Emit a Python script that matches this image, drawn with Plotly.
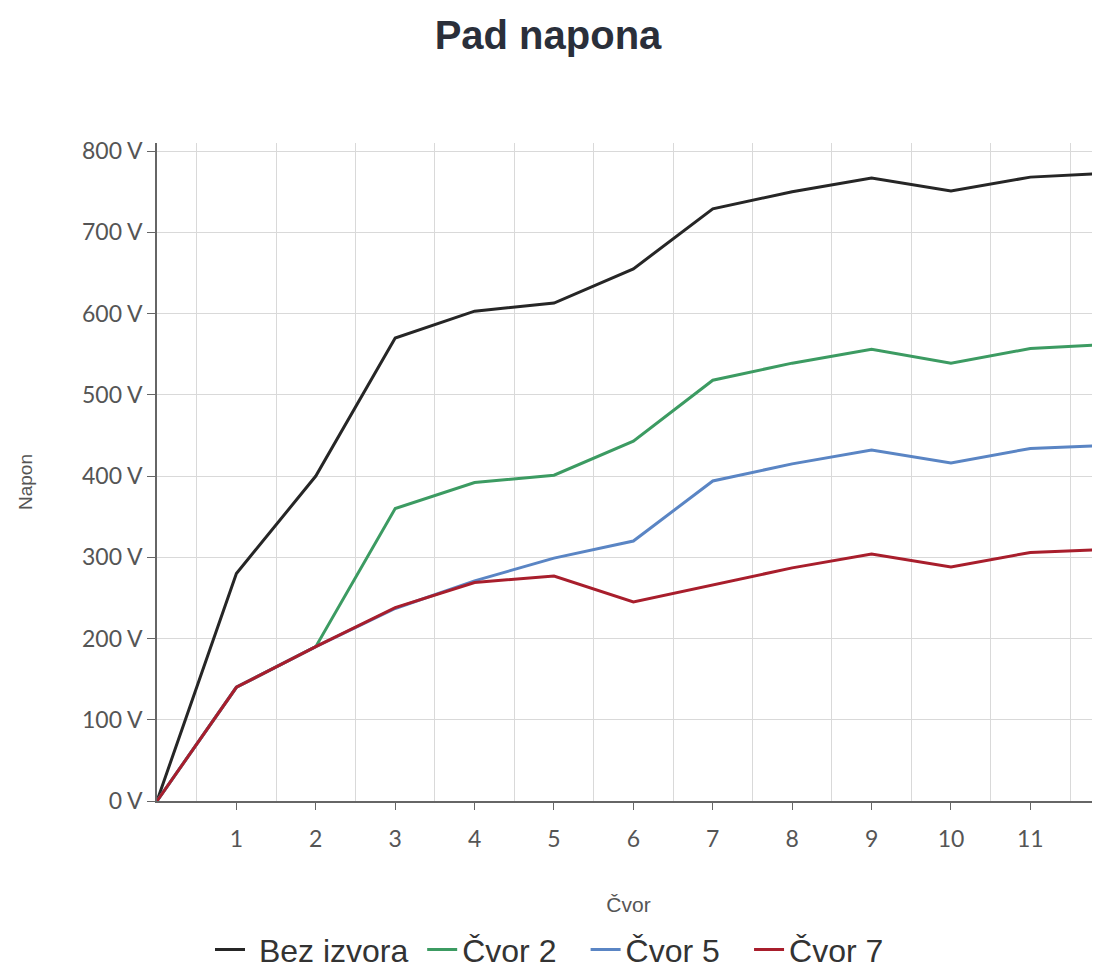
import plotly.graph_objects as go

nodes = [0, 1, 2, 3, 4, 5, 6, 7, 8, 9, 10, 11, 12]
bez_izvora = [0, 280, 400, 570, 603, 613, 655, 729, 750, 767, 751, 768, 773]
cvor_2 = [0, 140, 190, 360, 392, 401, 443, 518, 539, 556, 539, 557, 562]
cvor_5 = [0, 140, 190, 237, 271, 299, 320, 394, 415, 432, 416, 434, 438]
cvor_7 = [0, 140, 190, 238, 269, 277, 245, 266, 287, 304, 288, 306, 310]

NB = "\u00a0"
TH = "\u2009"
series = [
    ("Bez izvora", NB + "Bez izvora" + NB, bez_izvora, "#262626"),
    ("Čvor 2", "Čvor 2" + NB + NB + TH, cvor_2, "#3c9b62"),
    ("Čvor 5", "Čvor 5" + NB + NB + TH, cvor_5, "#5a85c4"),
    ("Čvor 7", "Čvor 7", cvor_7, "#a81e2c"),
]

x_ticks = [1, 2, 3, 4, 5, 6, 7, 8, 9, 10, 11]
y_ticks = [0, 100, 200, 300, 400, 500, 600, 700, 800]
y_tick_text = [f"{v} V" for v in y_ticks]

fig = go.Figure()
for name, label, vals, col in series:
    fig.add_trace(go.Scatter(x=nodes, y=vals, mode="lines", name=label,
                             line=dict(color=col, width=3)))

fig.update_layout(
    width=1092, height=962,
    paper_bgcolor="white", plot_bgcolor="white",
    margin=dict(l=149, r=0, t=135, b=169, autoexpand=False),
    title=dict(text="<b>Pad napona</b>", x=0.4945, xanchor="center", y=0.9715, yanchor="middle",
               font=dict(family="Liberation Sans, Arial", size=40, color="#2a2f3a")),
    showlegend=True,
    legend=dict(orientation="h", x=(210 - 157) / 943, xanchor="left",
                y=-0.226, yanchor="middle",
                font=dict(family="Liberation Sans, Arial", size=32, color="#333333"),
                itemwidth=30, tracegroupgap=0),
    xaxis=dict(range=[0, 11.877], tickmode="array", tickvals=x_ticks,
               ticktext=[str(v) for v in x_ticks], tickangle=0,
               showgrid=False,
               minor=dict(tickmode="array", tickvals=[i + 0.5 for i in range(12)],
                          showgrid=True, gridcolor="#d9d9d9", gridwidth=1, ticks=""),
               showline=True, linecolor="#666666", linewidth=1.5,
               ticks="outside", ticklen=7, tickcolor="#666666",
               ticklabelstandoff=10,
               tickfont=dict(family="Lato", size=23, color="#555555"),
               title=dict(text="Čvor", standoff=46,
                          font=dict(family="Liberation Sans, Arial", size=21, color="#555555")),
               zeroline=False, automargin=False),
    yaxis=dict(range=[0, 810], tickmode="array", tickvals=y_ticks, ticktext=y_tick_text,
               showgrid=True, gridcolor="#d9d9d9", gridwidth=1,
               showline=True, linecolor="#666666", linewidth=1.5,
               ticks="outside", ticklen=8, tickcolor="#666666",
               tickfont=dict(family="Lato", size=23, color="#555555"),
               zeroline=False, automargin=False),
    annotations=[dict(text="Napon", textangle=-90, xref="paper", yref="paper",
                      x=(25 - 157) / 943, y=(801 - 482) / 658, xanchor="center", yanchor="middle",
                      showarrow=False,
                      font=dict(family="Liberation Sans, Arial", size=19, color="#555555"))],
)

fig.write_html("out.html")
